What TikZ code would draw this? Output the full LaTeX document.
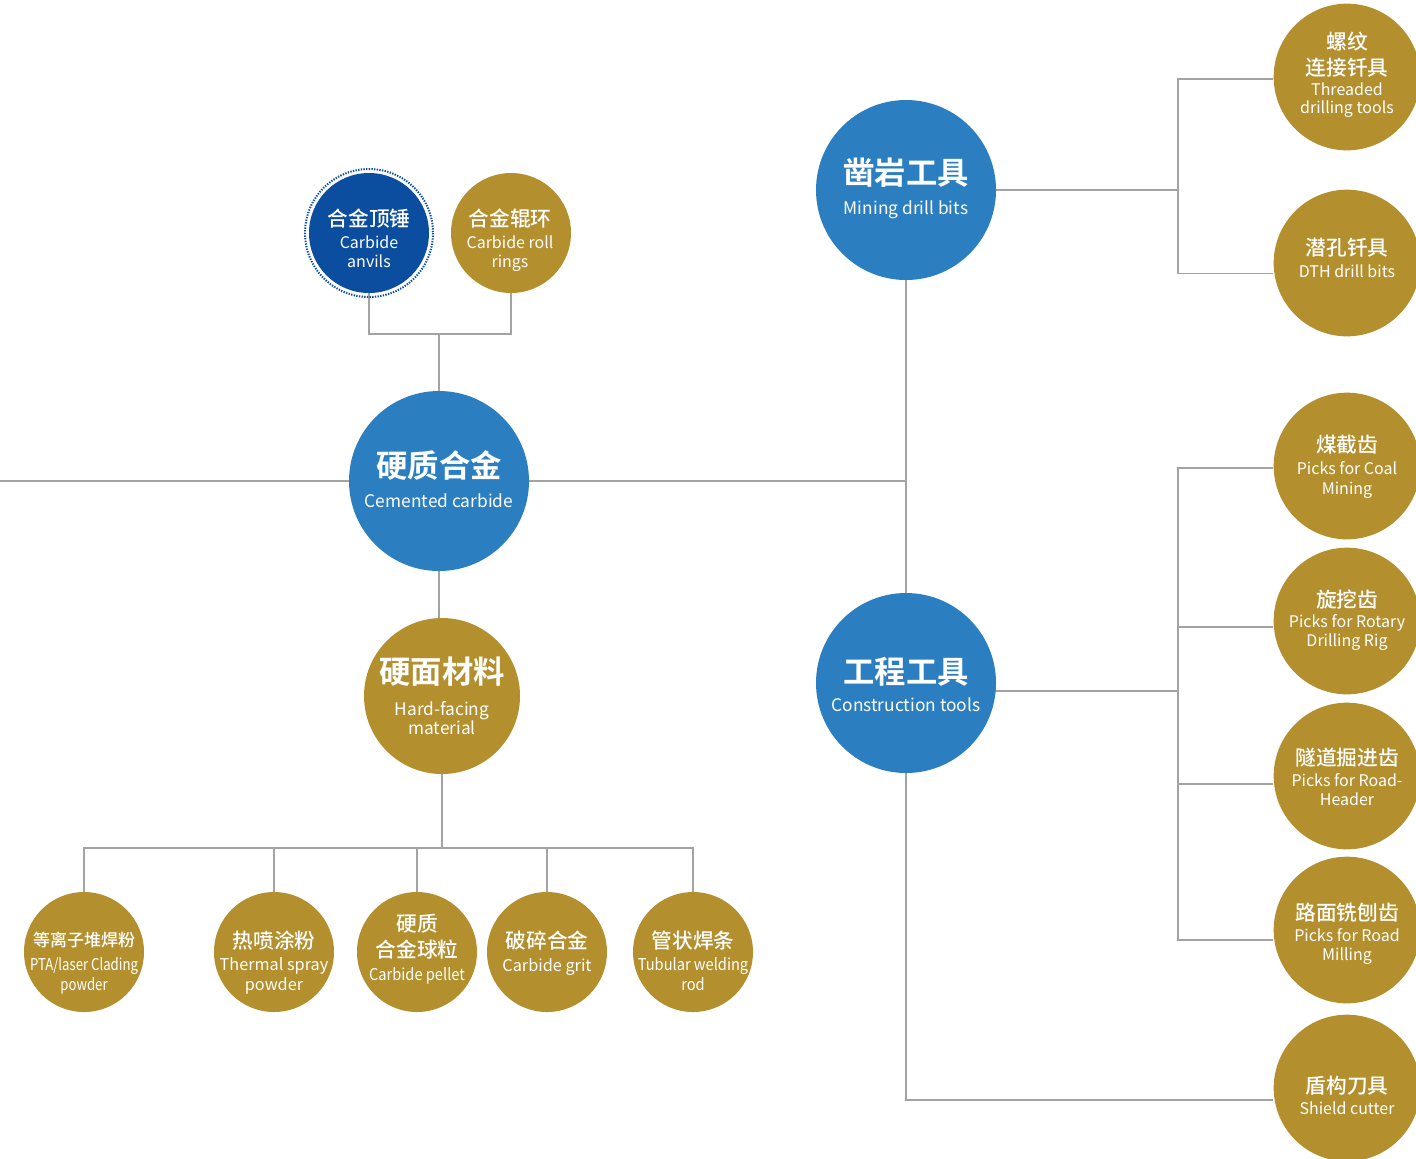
\documentclass[tikz,border=0pt]{standalone}
\usepackage{fontspec}
\setmainfont{Noto Sans CJK SC}[BoldFont={Noto Sans CJK SC Medium}]
\newfontfamily\zhheavy{Noto Sans CJK SC Bold}
\usetikzlibrary{backgrounds}
\definecolor{cblue}{HTML}{2B7FC1}
\definecolor{dblue}{HTML}{0B4D9F}
\definecolor{gold}{HTML}{B38F2E}
\definecolor{lgray}{HTML}{A3A3A3}
\begin{document}
\begin{tikzpicture}[x=0.75pt,y=-0.75pt,
  conn/.style={draw=lgray,line width=1.1pt},
  bigc/.style={circle,fill=cblue,minimum size=135pt,inner sep=0pt},
  hfc/.style={circle,fill=gold,minimum size=117pt,inner sep=0pt},
  smc/.style={circle,fill=gold,minimum size=90pt,inner sep=0pt},
  rtc/.style={circle,fill=gold,minimum size=110pt,inner sep=0pt},
  txt/.style={text=white,anchor=base,inner sep=0pt},
  zhL/.style={txt,font=\zhheavy\fontsize{23.5}{24}\selectfont},
  enL/.style={txt,font=\fontsize{13}{14}\selectfont},
  zhM/.style={txt,font=\bfseries\fontsize{15.5}{16}\selectfont},
  enM/.style={txt,font=\fontsize{12}{13}\selectfont},
  zhS/.style={txt,font=\bfseries\fontsize{12.75}{13}\selectfont},
  enS/.style={txt,font=\fontsize{12.2}{13}\selectfont},
]
\useasboundingbox (0,0) rectangle (1416,1158);

% circles
\node[bigc] (cc) at (439,481) {};
\node[bigc] (mb) at (906,190) {};
\node[bigc] (ct) at (906,683) {};
\node[hfc] (hf) at (442,696) {};
\node[circle,fill=dblue,minimum size=90pt,inner sep=0pt] (anv) at (369,233) {};
\draw[dblue,line width=1.5pt,dash pattern=on 1pt off 1pt] (anv.center) circle[radius=64];
\node[smc] (rr) at (511,233) {};
\node[rtc] (thr) at (1347,77) {};
\node[rtc] (dth) at (1347,263) {};
\node[rtc] (coal) at (1347,466) {};
\node[rtc] (rot) at (1347,621) {};
\node[rtc] (hdr) at (1347,776) {};
\node[rtc] (mill) at (1347,930) {};
\node[rtc] (shd) at (1347,1088) {};
\node[smc] (b1) at (84,952) {};
\node[smc] (b2) at (274,952) {};
\node[smc] (b3) at (417,952) {};
\node[smc] (b4) at (547,952) {};
\node[smc] (b5) at (693,952) {};

% connectors
\coordinate (lft) at (0,481);
\coordinate (jA) at (439,334);
\coordinate (jM) at (1178,190);
\coordinate (jC) at (1178,691);
\coordinate (jH) at (442,848);
\coordinate (jS) at (906,1100);
\begin{pgfonlayer}{background}
\draw[conn] (lft) -- (cc);
\draw[conn] (cc) -- (cc -| mb);
\draw[conn] (mb) -- (ct);
\draw[conn] (cc) -- (cc |- hf);
\draw[conn] (cc) -- (jA);
\draw[conn] (anv) |- (jA) -| (rr);
\draw[conn] (hf) -- (jH);
\draw[conn] (b1) |- (jH) -| (b5);
\draw[conn] (b2) -- (b2 |- jH);
\draw[conn] (b3) -- (b3 |- jH);
\draw[conn] (b4) -- (b4 |- jH);
\draw[conn] (mb) -- (jM);
\draw[conn] ([yshift=-1.5pt]thr.west) -| (jM);
\draw[conn] (jM) |- ([yshift=-8pt]dth.west);
\draw[conn] (ct |- jC) -- (jC);
\draw[conn] ([yshift=-1.5pt]coal.west) -| (jC);
\draw[conn] (jC) |- ([yshift=-7.5pt]mill.west);
\draw[conn] ([yshift=-4.5pt]rot.west) -- ([yshift=-4.5pt]rot.west -| jC);
\draw[conn] ([yshift=-6pt]hdr.west) -- ([yshift=-6pt]hdr.west -| jC);
\draw[conn] (ct) -- (jS) -- (jS -| shd.west);
\end{pgfonlayer}

% texts
\node[zhL] (cc1) at (439,477) {硬质合金};
\node[enL] (cc2) at (439,507) {Cemented carbide};
\node[zhL] (mb1) at (906,184) {凿岩工具};
\node[enL] (mb2) at (906,214) {Mining drill bits};
\node[zhL] (ct1) at (906,683) {工程工具};
\node[enL] (ct2) at (906,711) {Construction tools};
\node[zhL] (hf1) at (442,683) {硬面材料};
\node[enL] (hf2) at (442,715) {Hard-facing};
\node[enL] (hf3) at (442,734) {material};

\node[zhM] (anv1) at (369,226) {合金顶锤};
\node[enM] (anv2) at (369,248) {Carbide};
\node[enM] (anv3) at (369,267) {anvils};
\node[zhM] (rr1) at (510,226) {合金辊环};
\node[enM] (rr2) at (510,248) {Carbide roll};
\node[enM] (rr3) at (510,267) {rings};

\node[zhM] (thr1) at (1347,49) {螺纹};
\node[zhM] (thr2) at (1347,75) {连接钎具};
\node[enM] (thr3) at (1347,95) {Threaded};
\node[enM] (thr4) at (1347,113) {drilling tools};
\node[zhM] (dth1) at (1347,255) {潜孔钎具};
\node[enM] (dth2) at (1347,277) {DTH drill bits};
\node[zhM] (coal1) at (1347,452) {煤截齿};
\node[enM] (coal2) at (1347,474) {Picks for Coal};
\node[enM] (coal3) at (1347,494) {Mining};
\node[zhM] (rot1) at (1347,607) {旋挖齿};
\node[enM] (rot2) at (1347,627) {Picks for Rotary};
\node[enM] (rot3) at (1347,646) {Drilling Rig};
\node[zhM] (hdr1) at (1347,765) {隧道掘进齿};
\node[enM] (hdr2) at (1347,786) {Picks for Road-};
\node[enM] (hdr3) at (1347,805) {Header};
\node[zhM] (mill1) at (1347,920) {路面铣刨齿};
\node[enM] (mill2) at (1347,941) {Picks for Road};
\node[enM] (mill3) at (1347,960) {Milling};
\node[zhM] (shd1) at (1347,1093) {盾构刀具};
\node[enM] (shd2) at (1347,1114) {Shield cutter};

\node[zhS] (b11) at (84,946) {等离子堆焊粉};
\node[enS] (b12) at (84,970) {\scalebox{0.81}[1]{PTA/laser Clading}};
\node[enS] (b13) at (84,990) {\scalebox{0.81}[1]{powder}};
\node[zhM] (b21) at (274,948) {热喷涂粉};
\node[enS] (b22) at (274,970) {Thermal spray};
\node[enS] (b23) at (274,990) {powder};
\node[zhM] (b31) at (417,931) {硬质};
\node[zhM] (b32) at (417,957) {合金球粒};
\node[enS] (b33) at (417,980) {\scalebox{0.9}[1]{Carbide pellet}};
\node[zhM] (b41) at (547,948) {破碎合金};
\node[enS] (b42) at (547,971) {Carbide grit};
\node[zhM] (b51) at (693,948) {管状焊条};
\node[enS] (b52) at (693,970) {\scalebox{0.9}[1]{Tubular welding}};
\node[enS] (b53) at (693,990) {\scalebox{0.9}[1]{rod}};
\end{tikzpicture}
\end{document}
